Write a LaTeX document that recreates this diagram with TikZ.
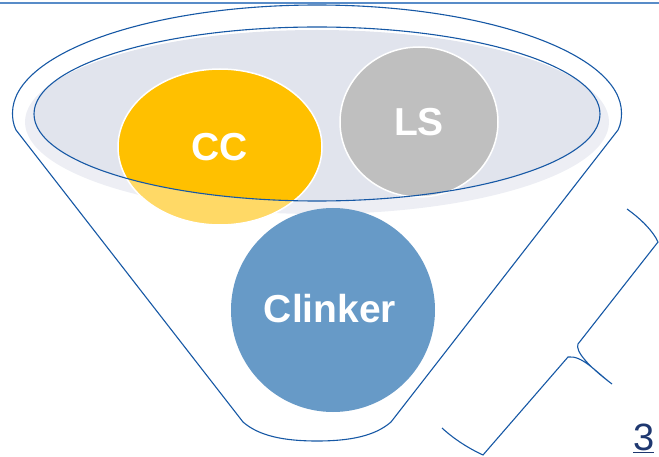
\documentclass[tikz,border=0pt]{standalone}
\usepackage{fontspec}
\newfontfamily\lab{Liberation Sans}
\usetikzlibrary{shapes.geometric}
\definecolor{rimblue}{RGB}{22,88,165}
\definecolor{barblue}{RGB}{88,140,200}
\definecolor{surface}{RGB}{225,228,237}
\definecolor{ccyellow}{RGB}{255,192,0}
\definecolor{lsgray}{RGB}{191,191,191}
\definecolor{clkblue}{RGB}{103,154,199}
\definecolor{navy}{RGB}{31,56,112}
\tikzset{
  outline/.style={draw=rimblue, line width=1.1pt},
  blob/.style={inner sep=0pt, text=white, font=\lab\bfseries\fontsize{39}{39}\selectfont},
}
\begin{document}
\begin{tikzpicture}[x=1pt, y=-1pt]
\useasboundingbox (0,0) rectangle (659,457);

% material surface inside the funnel mouth
\fill[surface] (317,122) ellipse [x radius=292, y radius=92];

% ingredients resting on the surface
\node[blob, ellipse, fill=ccyellow, draw=white, line width=1.5pt,
      minimum width=204pt, minimum height=156pt] (cc) at (220,147) {CC};
\node[blob, ellipse, fill=lsgray, draw=white, line width=1.5pt,
      minimum width=158pt, minimum height=150pt] (ls) at (419,122) {LS};

% everything below the rim seen through the translucent funnel wall
\fill[white, fill opacity=0.4, even odd rule]
  (0,0) rectangle (659,457)
  (317,114) ellipse [x radius=283, y radius=87];

% heading rule
\coordinate (barL) at (0,3);
\coordinate (barR) at (659,3);
\draw[barblue, line width=1.8pt] (barL) -- (barR);

% rim of the mouth
\draw[outline] (317,114) ellipse [x radius=283, y radius=87];

% funnel body
\draw[outline]
  (16,130) .. controls (13,124) and (12.5,118) .. (12.5,113)
  .. controls (12.5,53.4) and (148.8,5) .. (317,5)
  .. controls (485.2,5) and (621.5,53.4) .. (621.5,113)
  .. controls (621.5,118) and (621,124) .. (618,130)
  -- (391,422)
  .. controls (375,436) and (350,441) .. (317,441)
  .. controls (284,441) and (259,436) .. (243,422)
  -- cycle;

% product leaving the funnel
\node[blob, circle, fill=clkblue, minimum size=204pt] (clk) at (333,310) {};
\node[blob] (clktxt) at (330,309) {Clinker};

% brace along the right wall
\draw[outline]
  (627,209) .. controls (641,219) and (653,231) .. (658,242)
  -- (578,344)
  .. controls (575,351) and (588,366) .. (612,384)
  .. controls (596,372) and (582,355) .. (568,357)
  -- (483,455)
  .. controls (470,449) and (455,440) .. (442,428);

% slide number
\node[inner sep=0pt, anchor=south west, text=navy,
      font=\lab\fontsize{38}{38}\selectfont] (num) at (633,453) {\underline{3}};
\end{tikzpicture}
\end{document}
